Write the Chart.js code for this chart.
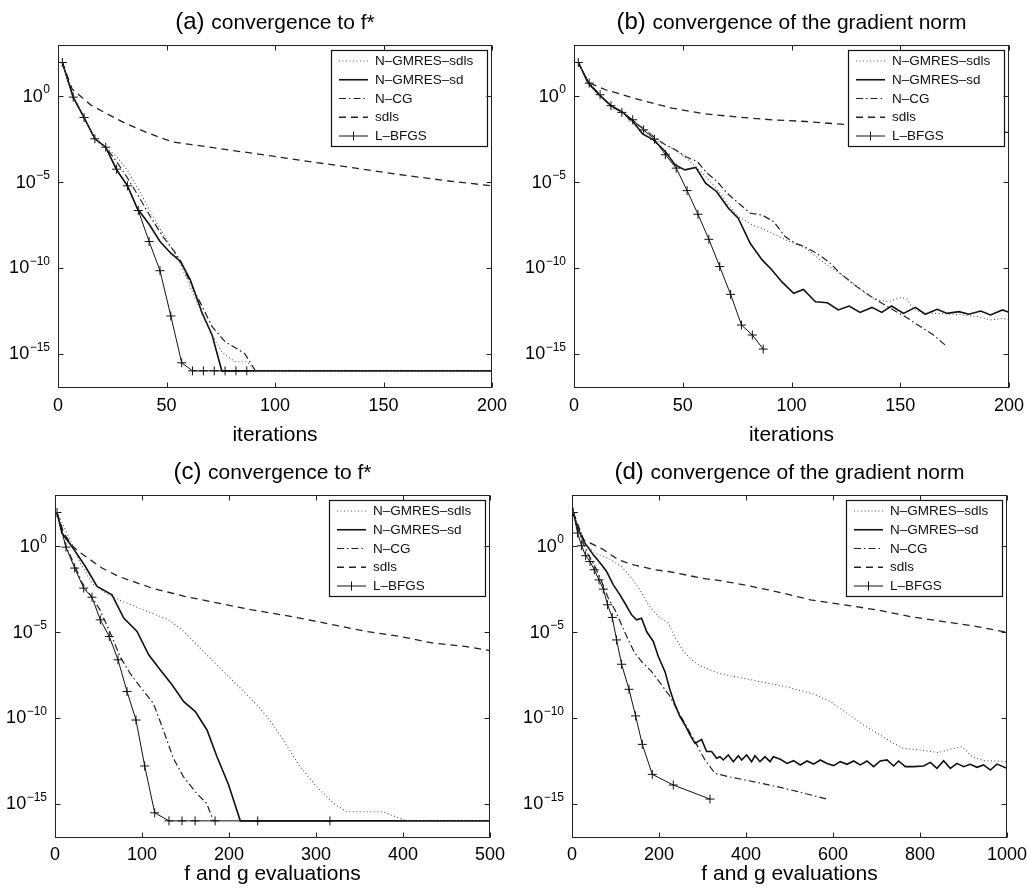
<!DOCTYPE html>
<html>
<head>
<meta charset="utf-8">
<title>Convergence comparison</title>
<script src="https://cdn.jsdelivr.net/npm/chart.js@4.4.0/dist/chart.umd.min.js"></script>
<style>
    html, body { margin: 0; padding: 0; background: #fff; }
    #wrap { position: relative; width: 1027px; height: 893px; }
    canvas { position: absolute; }
</style>
</head>
<body>
<div id="wrap">
    <canvas id="chartA" width="513" height="450" style="left:0px;top:0px;width:513px;height:450px"></canvas>
    <canvas id="chartB" width="514" height="450" style="left:513px;top:0px;width:514px;height:450px"></canvas>
    <canvas id="chartC" width="513" height="443" style="left:0px;top:450px;width:513px;height:443px"></canvas>
    <canvas id="chartD" width="514" height="443" style="left:513px;top:450px;width:514px;height:443px"></canvas>
</div>
<script>
// Series labels and axis ticks
const seriesNames = ['N–GMRES–sdls', 'N–GMRES–sd', 'N–CG', 'sdls', 'L–BFGS'];
const yTickExps = [0, -5, -10, -15];          // labels 10^0 ... 10^-15
const xTicksIter = [0, 50, 100, 150, 200];
const xTicksEvalC = [0, 100, 200, 300, 400, 500];
const xTicksEvalD = [0, 200, 400, 600, 800, 1000];

// values are log10 of the plotted quantity

// (a) convergence to f*, vs iterations
const aNgSdlsX = [2, 7, 12, 17, 22, 27, 32, 37, 42.5, 48, 52.5, 57, 61.5, 66.5, 71, 75.5, 81.5, 87, 91, 200];
const aNgSdlsLog = [1.98, -0.04, -1.23, -2.47, -2.96, -3.5, -4.3, -5.4, -6.7, -7.9, -8.85, -9.92, -11.28, -12.7, -13.9, -14.9, -15.47, -15.47, -16, -16];
const aNgSdX = [2, 7, 12, 17, 22, 27, 32, 36.5, 42, 47, 52, 56.5, 61, 66.5, 71, 75.5, 200];
const aNgSdLog = [1.98, -0.04, -1.23, -2.47, -2.96, -4.28, -5.21, -6.52, -7.45, -8.46, -9.14, -9.63, -10.7, -12.65, -13.91, -16, -16];
const aNcgX = [2, 7, 12, 17, 22, 27, 32, 37, 43, 48.5, 54, 56.5, 61, 66.5, 71, 77, 86, 91];
const aNcgLog = [1.98, -0.04, -1.23, -2.47, -2.96, -3.8, -4.75, -5.8, -7.1, -8.2, -9.1, -9.6, -10.89, -12.26, -13.42, -14.3, -14.98, -16];
const aSdlsX = [2, 6.5, 15, 22, 30, 38, 46, 53, 61, 69, 77, 85, 100, 120, 140, 160, 180, 200];
const aSdlsLog = [1.98, 0.43, -0.49, -0.97, -1.5, -1.95, -2.35, -2.65, -2.8, -2.94, -3.09, -3.23, -3.5, -3.87, -4.23, -4.6, -4.93, -5.21];
const lbfgsIterX = [2, 7, 12, 17, 22, 27, 32, 37, 42, 47, 52, 57, 62, 67, 72, 77, 82, 87];
const aLbfgsLog = [1.98, -0.04, -1.23, -2.47, -2.96, -4.24, -5.21, -6.65, -8.46, -10.16, -12.8, -15.53, -16, -16, -16, -16, -16, -16];

// (b) convergence of the gradient norm, vs iterations
const bNgSdlsX = [2, 6.5, 12, 17, 22, 26.5, 31.5, 36.5, 42, 47.5, 52.5, 57.5, 62, 66.5, 71, 75.5, 82, 88, 94, 100, 106.5, 111, 116, 122, 127, 131.5, 136, 141, 145, 150, 153, 156, 161, 167, 173, 179, 185.5, 191.5, 197.5, 200];
const bNgSdlsLog = [1.98, 0.82, 0.1, -0.68, -0.88, -1.56, -2.04, -2.43, -2.82, -3.21, -3.7, -4.28, -4.86, -5.54, -6.32, -7.0, -7.49, -7.78, -8.17, -8.5, -8.85, -9.3, -9.8, -10.3, -10.8, -11.2, -11.7, -11.9, -11.95, -11.73, -11.8, -12.4, -12.65, -12.65, -12.68, -12.74, -12.84, -13.03, -12.94, -13.03];
const bNgSdX = [2, 6.5, 11.5, 17, 22, 26.5, 31.5, 36.5, 42, 46.5, 51, 56, 60.5, 65.5, 71, 75.5, 81, 86.5, 91, 95.5, 101, 105.5, 111, 116.5, 121.5, 126.5, 131.5, 137, 141.5, 146, 151.5, 157, 161.5, 167, 171.5, 177, 181.5, 187, 191.5, 197, 200];
const bNgSdLog = [1.98, 0.78, 0.1, -0.54, -0.88, -1.36, -2.18, -2.53, -3.21, -3.99, -4.28, -4.14, -5.06, -5.54, -6.52, -7.1, -8.56, -9.53, -10.12, -10.8, -11.48, -11.25, -11.97, -12.03, -12.45, -12.22, -12.59, -12.3, -12.59, -12.22, -12.65, -12.3, -12.7, -12.41, -12.65, -12.55, -12.7, -12.51, -12.74, -12.45, -12.59];
const bNcgX = [2, 6.5, 12, 17, 22, 26.7, 32, 37.4, 42, 46.6, 51.2, 56.6, 61.2, 65.8, 70.4, 75.7, 81.1, 86.4, 91.8, 97.1, 101.7, 106, 111.5, 117, 122.4, 130, 137.8, 145.4, 152.3, 159.2, 165.3, 171.5];
const bNcgLog = [1.98, 0.82, 0.1, -0.6, -0.88, -1.46, -1.85, -2.43, -2.82, -3.11, -3.5, -3.79, -4.47, -4.96, -5.64, -6.23, -6.81, -6.91, -7.3, -8.17, -8.56, -8.75, -9.14, -9.63, -10.31, -11.09, -11.77, -12.35, -12.84, -13.42, -13.91, -14.59];
const bSdlsX = [2, 6.5, 14.5, 30, 45, 60, 76, 91, 106.5, 126, 140, 160, 180, 200];
const bSdlsLog = [1.98, 0.82, 0.39, -0.19, -0.68, -1.01, -1.21, -1.36, -1.46, -1.65, -1.75, -1.88, -2.0, -2.1];
const bLbfgsLog = [1.98, 0.78, 0.1, -0.54, -0.93, -1.36, -1.95, -2.49, -3.4, -4.18, -5.49, -6.87, -8.33, -9.92, -11.54, -13.33, -13.91, -14.73];

// (c) convergence to f*, vs f and g evaluations
const cNgSdlsX = [2.3, 15.7, 29.1, 42.5, 57.9, 73.2, 92.3, 111.5, 130.7, 146, 157.5, 172.8, 188.1, 203.4, 218.8, 234.1, 249.4, 264.7, 281.6, 300.8, 320, 335.2, 377, 396.6, 404, 500];
const cNgSdlsLog = [1.98, 0.58, -0.97, -2.14, -2.72, -3.11, -3.5, -3.89, -4.28, -4.86, -5.45, -6.23, -7.0, -7.78, -8.56, -9.34, -10.31, -11.48, -12.84, -14.0, -14.98, -15.47, -15.47, -15.86, -16, -16];
const cNgSdX = [2.3, 8, 19.5, 34.9, 48.3, 65.5, 79, 94.3, 107.7, 121.1, 134.5, 148, 161.3, 174.7, 186.2, 199.6, 213, 500];
const cNgSdLog = [1.98, 0.78, 0, -1.17, -2.33, -2.82, -4.18, -4.96, -6.32, -7.2, -8.07, -9.05, -9.63, -10.7, -12.26, -13.91, -16, -16];
const cNcgX = [2.3, 12, 23, 33, 42.5, 51.7, 63.2, 74.7, 86.2, 97.7, 113, 124.5, 136, 147.5, 162.8, 174.3, 182];
const cNcgLog = [1.98, 0.1, -1.15, -2.35, -2.96, -3.7, -5.0, -6.42, -7.39, -8.17, -9.14, -10.7, -12.35, -13.42, -14.4, -14.98, -16];
const cSdlsX = [2.3, 10, 19.5, 27, 54, 73.2, 111.5, 149.8, 188.1, 226.4, 272.4, 320, 358, 397, 435, 473, 500];
const cSdlsLog = [1.98, 0.8, 0.05, -0.29, -1.26, -1.75, -2.43, -2.92, -3.31, -3.7, -4.09, -4.57, -4.96, -5.25, -5.64, -5.84, -6.07];
const cLbfgsX = [2.3, 12.6, 22.6, 33, 42.5, 52.1, 62.4, 72.4, 82.8, 93.1, 103.1, 114.6, 131, 146, 161, 184, 233, 316];
const cLbfgsLog = [1.98, -0.04, -1.26, -2.43, -2.96, -4.28, -5.25, -6.61, -8.46, -10.12, -12.8, -15.53, -16, -16, -16, -16, -16, -16];

// (d) convergence of the gradient norm, vs f and g evaluations
const dNgSdlsX = [3, 22.1, 52.9, 83.4, 114, 137, 156.3, 175.4, 198.4, 221.4, 236.8, 255.9, 274.9, 297.9, 336.3, 374.7, 412.9, 451.3, 489.7, 520.2, 555, 593.8, 632.2, 670.6, 708.7, 739.3, 762.3, 800.6, 842.7, 869.7, 896.6, 919.6, 946.2, 977, 1000];
const dNgSdlsLog = [1.98, 0.39, -0.39, -0.68, -1.17, -1.85, -2.53, -3.4, -4.09, -4.47, -5.3, -6.1, -6.61, -7.0, -7.39, -7.59, -7.78, -7.98, -8.17, -8.37, -8.6, -9.05, -9.73, -10.41, -11.0, -11.48, -11.77, -11.87, -12.02, -11.83, -11.67, -12.26, -12.49, -12.51, -12.55];
const dNgSdX = [3, 14.5, 29.8, 49, 68, 79.5, 95, 110.3, 121.8, 137, 148.5, 160, 171.5, 186.9, 198.4, 213.8, 225.3, 236.8, 248.3, 259.8, 271.3, 282.8, 297.9, 309.4, 320.9, 332.4, 340.2, 347.8, 359.3, 370.8, 382.3, 389.9, 401.4, 412.9, 420.7, 432.2, 443.7, 455.2, 462.8,
    478.9, 494.3, 509.4, 524.8, 540.2, 555.4, 570.8, 586.2, 601.4, 616.8, 632.2, 647.4, 662.8, 678.2, 693.3, 708.7, 724.1, 739.3, 750.8, 766.2, 785.3, 808.3, 823.7, 839.1, 854.3, 869.7, 885.1, 900.2, 915.6, 931, 946.2, 961.6, 977, 1000];
const dNgSdLog = [1.98, 0.97, 0.19, -0.49, -1.07, -1.46, -2.24, -2.82, -3.31, -3.99, -4.28, -4.18, -4.96, -5.54, -6.42, -7.3, -8.37, -9.24, -9.92, -10.41, -10.99, -11.48, -11.25, -11.96, -11.96, -12.35, -12.26, -12.45, -12.16, -12.55, -12.2, -12.45, -12.16, -12.55, -12.2, -12.55, -12.26, -12.55, -12.26,
    -12.41, -12.65, -12.49, -12.74, -12.51, -12.69, -12.45, -12.65, -12.78, -12.55, -12.7, -12.51, -12.74, -12.51, -12.84, -12.51, -12.45, -12.8, -12.51, -12.84, -12.84, -12.8, -12.59, -12.94, -12.49, -12.94, -12.65, -12.84, -12.7, -12.88, -12.74, -13.04, -12.69, -12.94];
const dNcgX = [3, 22.1, 37.5, 52.9, 68, 83.4, 98.9, 114, 129.4, 144.8, 160, 183, 206, 225.3, 244.4, 263.5, 282.8, 305.7, 328.7, 359.3, 397.7, 435.9, 478.9, 520.2, 586.2];
const dNcgLog = [1.98, 0.39, -0.49, -1.17, -2.04, -3.02, -3.7, -4.57, -5.45, -6.23, -6.71, -7.3, -8.07, -8.75, -9.63, -10.51, -11.38, -12.45, -13.23, -13.42, -13.62, -13.81, -14.05, -14.3, -14.73];
const dSdlsX = [3, 26.8, 72.8, 106.4, 141.8, 190.8, 221.4, 259.8, 297.9, 336.3, 374.7, 412.9, 451.3, 489.7, 548, 624.5, 701.1, 777.8, 854.4, 931, 1000];
const dSdlsLog = [1.98, 0.39, -0.19, -0.78, -1.07, -1.36, -1.46, -1.65, -1.85, -1.98, -2.14, -2.33, -2.53, -2.75, -3.11, -3.4, -3.7, -4.09, -4.38, -4.67, -5.0];
const dLbfgsX = [3, 12.9, 22.1, 31.3, 41.4, 51.3, 62.1, 72, 81.8, 92.6, 102.5, 114, 131, 146.2, 161.6, 184.6, 232.9, 317.2];
const dLbfgsLog = [1.98, 0.78, 0.04, -0.54, -0.88, -1.36, -1.95, -2.49, -3.4, -4.14, -5.45, -6.87, -8.33, -9.88, -11.54, -13.29, -13.91, -14.73];

const FONT = '"Liberation Sans", Arial, Helvetica, sans-serif';
Chart.defaults.font.family = FONT;
Chart.defaults.color = '#000';

// line look for each series, same order as seriesNames
const lineStyles = [
    { borderColor: '#555', borderWidth: 1.1, borderDash: [1, 2.5] },
    { borderColor: '#111', borderWidth: 1.6, borderDash: [] },
    { borderColor: '#222', borderWidth: 1.2, borderDash: [7, 3, 1.5, 3] },
    { borderColor: '#222', borderWidth: 1.3, borderDash: [7, 5] },
    { borderColor: '#111', borderWidth: 1, borderDash: [], pointStyle: 'cross', pointRadius: 4.5,
      pointBorderColor: '#111', pointBorderWidth: 1 }
];

function pts(xs, lg) {
    return xs.map((x, i) => ({ x: x, y: Math.pow(10, lg[i]) }));
}

function buildDatasets(series) {
    return series.map((s, i) => Object.assign({
        label: seriesNames[i],
        data: pts(s[0], s[1]),
        pointRadius: 0,
        pointHoverRadius: 0,
        tension: 0,
        fill: false
    }, lineStyles[i]));
}

function drawLegendBox(chart) {
    const ctx = chart.ctx;
    const area = chart.chartArea;
    const w = 156, h = 96;
    const left = area.right - 5 - w;
    const top = area.top + 5;
    ctx.save();
    ctx.fillStyle = '#fff';
    ctx.fillRect(left, top, w, h);
    ctx.lineWidth = 1.2;
    ctx.strokeStyle = '#111';
    ctx.setLineDash([]);
    ctx.strokeRect(left + 0.5, top + 0.5, w, h);
    ctx.font = '13.5px ' + FONT;
    ctx.textBaseline = 'middle';
    ctx.textAlign = 'left';
    chart.data.datasets.forEach((ds, i) => {
        const y = top + 11 + i * 18.75;
        ctx.beginPath();
        ctx.setLineDash(ds.borderDash || []);
        ctx.lineWidth = ds.borderWidth;
        ctx.strokeStyle = ds.borderColor;
        ctx.moveTo(left + 8, y);
        ctx.lineTo(left + 37, y);
        ctx.stroke();
        if (ds.pointStyle === 'cross') {
            ctx.setLineDash([]);
            ctx.beginPath();
            ctx.moveTo(left + 22.5, y - 4.5);
            ctx.lineTo(left + 22.5, y + 4.5);
            ctx.stroke();
        }
        ctx.fillStyle = '#111';
        ctx.fillText(ds.label, left + 44, y + 0.5);
    });
    ctx.restore();
}

function drawBox(chart) {
    const ctx = chart.ctx;
    const { left, right, top, bottom } = chart.chartArea;
    const xs = chart.scales.x, ys = chart.scales.y;
    const L = Math.round(left) + 0.5, R = Math.round(right) - 0.5;
    const T = Math.round(top) + 0.5, B = Math.round(bottom) - 0.5;
    ctx.save();
    ctx.setLineDash([]);
    ctx.strokeStyle = '#222';
    ctx.lineWidth = 1;
    ctx.strokeRect(L, T, R - L, B - T);
    ctx.beginPath();
    xs.ticks.forEach(t => {
        const px = Math.round(xs.getPixelForValue(t.value)) + 0.5;
        ctx.moveTo(px, B); ctx.lineTo(px, B - 5);
        ctx.moveTo(px, T); ctx.lineTo(px, T + 5);
    });
    ys.ticks.forEach(t => {
        const py = Math.round(ys.getPixelForValue(t.value)) + 0.5;
        ctx.moveTo(L, py); ctx.lineTo(L + 5, py);
        ctx.moveTo(R, py); ctx.lineTo(R - 5, py);
    });
    ctx.stroke();
    ctx.restore();
}

function drawYLabels(chart) {
    const ctx = chart.ctx;
    const ys = chart.scales.y;
    const xr = chart.chartArea.left - 8;
    ctx.save();
    ctx.fillStyle = '#000';
    ctx.textAlign = 'right';
    ctx.textBaseline = 'middle';
    ys.ticks.forEach(t => {
        const py = ys.getPixelForValue(t.value);
        const e = Math.round(Math.log10(t.value));
        const expStr = e === 0 ? '0' : '\u2212' + Math.abs(e);
        ctx.font = '12px ' + FONT;
        const ew = ctx.measureText(expStr).width;
        ctx.fillText(expStr, xr, py - 6.5);
        ctx.font = '18px ' + FONT;
        ctx.fillText('10', xr - ew - 0.5, py + 0.5);
    });
    ctx.restore();
}

function drawTitle(chart, opts) {
    const ctx = chart.ctx;
    const { left, right } = chart.chartArea;
    ctx.save();
    ctx.fillStyle = '#000';
    ctx.textAlign = 'left';
    ctx.textBaseline = 'alphabetic';
    ctx.font = '24px ' + FONT;
    const tagW = ctx.measureText(opts.tag + ' ').width;
    ctx.font = '21px ' + FONT;
    const textW = ctx.measureText(opts.text).width;
    const x0 = (left + right) / 2 - (tagW + textW) / 2;
    ctx.font = '24px ' + FONT;
    ctx.fillText(opts.tag, x0, 28.5);
    ctx.font = '21px ' + FONT;
    ctx.fillText(opts.text, x0 + tagW, 28.5);
    ctx.restore();
}

const matlabAxes = {
    id: 'matlabAxes',
    afterDatasetsDraw(chart) {
        drawLegendBox(chart);
    },
    afterDraw(chart, args, opts) {
        drawBox(chart);
        drawYLabels(chart);
        drawTitle(chart, opts);
    }
};

function initPanel(id, p) {
    const ctx = document.getElementById(id);
    if (!ctx) return;

    new Chart(ctx, {
        type: 'line',
        data: { datasets: buildDatasets(p.series) },
        options: {
            responsive: false,
            animation: false,
            devicePixelRatio: 1,
            layout: { padding: { left: 0, top: 45, right: p.padRight, bottom: 0 } },
            plugins: {
                legend: { display: false },
                tooltip: { enabled: false },
                matlabAxes: { tag: p.tag, text: p.text }
            },
            scales: {
                x: {
                    type: 'linear',
                    min: p.xTicks[0],
                    max: p.xTicks[p.xTicks.length - 1],
                    afterBuildTicks: s => { s.ticks = p.xTicks.map(v => ({ value: v })); },
                    afterFit: s => {
                        s.height = p.xHeight;
                        s.paddingLeft = 0;
                        s.paddingRight = 0;
                    },
                    grid: { display: false, drawTicks: false },
                    border: { display: false },
                    ticks: {
                        font: { size: 18 },
                        color: '#000',
                        padding: p.tickPad,
                        maxRotation: 0,
                        autoSkip: false,
                        callback: v => String(v)
                    },
                    title: {
                        display: true,
                        text: p.xTitle,
                        font: { size: 21 },
                        color: '#000',
                        padding: { top: 0, bottom: p.titlePad }
                    }
                },
                y: {
                    type: 'logarithmic',
                    min: 1e-17,
                    max: 1e3,
                    afterBuildTicks: s => { s.ticks = yTickExps.map(e => ({ value: Math.pow(10, e) })); },
                    afterFit: s => { s.width = p.yWidth; },
                    grid: { display: false, drawTicks: false },
                    border: { display: false },
                    ticks: { display: false }
                }
            }
        },
        plugins: [matlabAxes]
    });
}

initPanel('chartA', {
    tag: '(a)', text: 'convergence to f*', xTitle: 'iterations', xTicks: xTicksIter,
    yWidth: 58, padRight: 21, xHeight: 62, tickPad: 7, titlePad: 1.7,
    series: [[aNgSdlsX, aNgSdlsLog], [aNgSdX, aNgSdLog], [aNcgX, aNcgLog], [aSdlsX, aSdlsLog], [lbfgsIterX, aLbfgsLog]]
});

initPanel('chartB', {
    tag: '(b)', text: 'convergence of the gradient norm', xTitle: 'iterations', xTicks: xTicksIter,
    yWidth: 61, padRight: 18, xHeight: 62, tickPad: 7, titlePad: 1.7,
    series: [[bNgSdlsX, bNgSdlsLog], [bNgSdX, bNgSdLog], [bNcgX, bNcgLog], [bSdlsX, bSdlsLog], [lbfgsIterX, bLbfgsLog]]
});

initPanel('chartC', {
    tag: '(c)', text: 'convergence to f*', xTitle: 'f and g evaluations', xTicks: xTicksEvalC,
    yWidth: 55, padRight: 23, xHeight: 55, tickPad: 6, titlePad: 5.7,
    series: [[cNgSdlsX, cNgSdlsLog], [cNgSdX, cNgSdLog], [cNcgX, cNcgLog], [cSdlsX, cSdlsLog], [cLbfgsX, cLbfgsLog]]
});

initPanel('chartD', {
    tag: '(d)', text: 'convergence of the gradient norm', xTitle: 'f and g evaluations', xTicks: xTicksEvalD,
    yWidth: 59, padRight: 20, xHeight: 55, tickPad: 6, titlePad: 5.7,
    series: [[dNgSdlsX, dNgSdlsLog], [dNgSdX, dNgSdLog], [dNcgX, dNcgLog], [dSdlsX, dSdlsLog], [dLbfgsX, dLbfgsLog]]
});
</script>
</body>
</html>
